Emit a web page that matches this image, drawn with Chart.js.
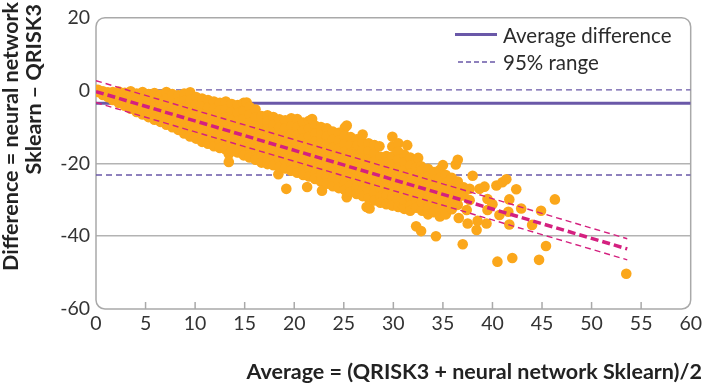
<!DOCTYPE html>
<html>
<head>
<meta charset="utf-8">
<script src="https://cdn.jsdelivr.net/npm/chart.js@4.4.0/dist/chart.umd.min.js"></script>
<style>
  body { margin: 0; background: #fff; }
  #wrap { width: 705px; height: 386px; position: relative; }
</style>
</head>
<body>
<div id="wrap"><canvas id="bland"></canvas></div>
<script>
// average risk (x) with the differences (y), grouped by column
var scatterCols = [
  [0.2, [0.2, -0.4]], [0.7, [-0.2, -1.2]], [1.2, [-0.5, -1.8]], [1.7, [-0.4, -1.5, -2.6]],
  [2.3, [-0.3, -2.0, -3.4]], [2.9, [-0.6, -2.4, -4.2]], [3.5, [-0.2, -1.9, -3.6, -5.0]],
  [4.1, [-0.8, -2.6, -4.4, -5.9]], [4.7, [-0.4, -2.2, -4.0, -5.7, -6.6]],
  [5.3, [-1.0, -2.8, -4.6, -6.4, -7.3]], [5.9, [-0.7, -2.5, -4.4, -6.2, -8.0]],
  [6.5, [-1.2, -3.0, -4.9, -6.8, -8.6]], [7.1, [-0.4, -2.3, -4.2, -6.1, -8.0, -9.4]],
  [7.7, [-1.0, -2.9, -4.8, -6.7, -8.6, -10.1]], [8.3, [-1.3, -3.3, -5.2, -7.2, -9.1, -10.8]],
  [8.9, [-0.8, -2.8, -4.8, -6.8, -8.8, -10.7, -11.8]], [9.5, [-0.5, -2.6, -4.7, -6.8, -8.9, -11.0, -12.6]],
  [10.1, [-1.8, -3.9, -6.0, -8.1, -10.2, -12.3, -13.2]], [10.7, [-2.2, -4.3, -6.4, -8.5, -10.6, -12.6, -14.1]],
  [11.3, [-2.6, -4.7, -6.8, -8.9, -11.0, -13.1, -14.6]], [11.9, [-3.0, -5.1, -7.2, -9.3, -11.4, -13.5, -15.3]],
  [12.5, [-3.4, -5.5, -7.6, -9.7, -11.8, -13.9, -15.8]], [13.1, [-3.0, -5.2, -7.4, -9.6, -11.8, -14.0, -16.2]],
  [13.4, [-17.4, -19.6]], [13.7, [-3.7, -5.9, -8.1, -10.3, -12.5, -14.7, -16.6]],
  [14.3, [-4.0, -6.2, -8.4, -10.6, -12.8, -15.0, -17.0]], [14.9, [-3.4, -5.6, -7.8, -10.0, -12.2, -14.4, -16.6, -17.8]],
  [15.2, [-3.3]], [15.5, [-4.5, -6.7, -8.9, -11.1, -13.3, -15.5, -17.7, -18.4]],
  [16.1, [-5.2, -7.4, -9.6, -11.8, -14.0, -16.2, -18.4, -19.0]], [16.7, [-7.0, -9.2, -11.4, -13.6, -15.8, -18.0, -19.8]],
  [17.3, [-6.8, -8.5, -10.7, -12.9, -15.1, -17.3, -19.5, -20.2]], [17.9, [-7.3, -9.5, -11.7, -13.9, -16.1, -18.3, -20.5]],
  [18.4, [-23.0]], [18.5, [-7.9, -10.1, -12.3, -14.5, -16.7, -18.9, -21.0]],
  [19.1, [-8.2, -10.4, -12.6, -14.8, -17.0, -19.2, -21.4]], [19.2, [-27.0]],
  [19.7, [-7.6, -9.8, -12.0, -14.2, -16.4, -18.6, -20.8, -22.0]], [20.3, [-7.8, -10.0, -12.2, -14.4, -16.6, -18.8, -21.0, -22.6]],
  [20.9, [-8.8, -11.0, -13.2, -15.4, -17.6, -19.8, -22.0, -23.2]], [21.3, [-26.5]],
  [21.5, [-8.3, -10.5, -12.7, -14.9, -17.1, -19.3, -21.5, -23.6]], [21.8, [-7.8]],
  [22.1, [-9.6, -11.8, -14.0, -16.2, -18.4, -20.6, -22.8, -24.3]],
  [22.7, [-10.0, -12.2, -14.4, -16.6, -18.8, -21.0, -23.2, -25.0]], [22.8, [-27.5]],
  [23.3, [-10.4, -12.6, -14.8, -17.0, -19.2, -21.4, -23.6, -25.6]], [23.9, [-11.3, -13.5, -15.7, -17.9, -20.1, -22.3, -24.5, -26.3]],
  [24.5, [-11.6, -13.8, -16.0, -18.2, -20.4, -22.6, -24.8, -26.8]], [25.1, [-10.2, -12.4, -14.6, -16.8, -19.0, -21.2, -23.4, -25.6, -27.3]],
  [25.3, [-9.6, -29.3]], [25.7, [-12.8, -15.0, -17.2, -19.4, -21.6, -23.8, -26.0, -27.8]],
  [26.3, [-13.4, -15.6, -17.8, -20.0, -22.2, -24.4, -26.6, -28.4]], [26.4, [-15.0]],
  [26.9, [-12.1, -14.3, -16.5, -18.7, -20.9, -23.1, -25.3, -27.5, -29.0]], [27.3, [-32.0]],
  [27.5, [-14.5, -16.7, -18.9, -21.1, -23.3, -25.5, -27.7, -29.6]], [27.6, [-32.4]],
  [28.1, [-15.0, -17.2, -19.4, -21.6, -23.8, -26.0, -28.2, -30.2]], [28.6, [-15.3]],
  [28.7, [-18.2, -20.4, -22.6, -24.8, -27.0, -29.2, -30.8]], [29.3, [-18.0, -19.9, -22.1, -24.3, -26.5, -28.7, -31.2]],
  [29.9, [-12.7, -15.4, -18.2, -20.4, -22.6, -24.8, -27.0, -29.2, -31.6]], [30.5, [-14.5, -16.8, -19.0, -21.2, -23.4, -25.6, -27.8, -30.0, -32.0]],
  [31.0, [-32.0]], [31.1, [-17.6, -19.8, -22.0, -24.2, -26.4, -28.6, -30.8, -32.5]], [31.4, [-15.0]],
  [31.7, [-18.4, -20.6, -22.8, -25.0, -27.2, -29.4, -31.6, -33.0]], [32.3, [-19.0, -21.2, -23.4, -25.6, -27.8, -30.0, -32.2, -37.3]],
  [32.5, [-18.5]], [32.8, [-20.8, -38.6]], [32.9, [-22.0, -24.2, -26.4, -28.6, -30.8, -33.0]],
  [33.5, [-21.5, -23.7, -25.9, -28.1, -30.3, -32.5, -34.0]], [34.1, [-22.4, -24.6, -26.8, -29.0, -31.2, -33.4]],
  [34.3, [-40.0]], [34.7, [-21.8, -24.0, -26.2, -28.4, -30.6, -32.8, -34.6]], [35.0, [-20.5]],
  [35.3, [-23.2, -25.4, -27.6, -29.8, -32.0, -34.0]], [35.9, [-24.0, -26.2, -28.4, -30.6, -32.6]],
  [36.3, [-20.3]], [36.5, [-19.0, -25.0, -27.2, -29.4, -31.4]], [36.6, [-35.0]], [37.0, [-42.2]],
  [37.1, [-26.6, -28.8]], [37.4, [-32.8]], [37.5, [-36.5]], [37.7, [-27.0, -30.1]], [38.0, [-23.4]],
  [38.4, [-38.3]], [38.5, [-35.8]], [38.7, [-27.0]], [39.2, [-26.4]], [39.4, [-36.5]],
  [39.5, [-29.8, -32.8]], [40.0, [-31.2]], [40.4, [-26.1]], [40.5, [-47.0]], [40.7, [-34.2]],
  [41.0, [-25.2]], [41.4, [-24.4]], [41.6, [-33.3]], [41.7, [-29.9, -36.8]], [42.0, [-46.0]],
  [42.4, [-27.1]], [42.9, [-32.4]], [44.0, [-36.9]], [44.7, [-46.5]], [44.9, [-33.0]],
  [45.4, [-42.7]], [46.3, [-29.9]], [53.5, [-50.3]]
];

var meanDiff = [-3.5, -3.5];
var upperLimit = [0.2, 0.2];
var lowerLimit = [-23.2, -23.2];
var limitX = [0, 60];

// trend line and its band, read at both ends
var fitX = [0, 53.6];
var fitMid = [-0.3, -43.5];
var fitHigh = [2.7, -40.7];
var fitLow = [-3.3, -46.5];

var xTicks = [0, 5, 10, 15, 20, 25, 30, 35, 40, 45, 50, 55, 60];
var yTicks = [20, 0, -20, -40, -60];

var purple = '#6a58a8';
var magenta = '#d4207f';
var orange = '#fba71b';

function pairs(xs, ys) {
  return xs.map(function (x, i) { return { x: x, y: ys[i] }; });
}

var scatterData = [];
scatterCols.forEach(function (col) {
  col[1].forEach(function (d) { scatterData.push({ x: col[0], y: d }); });
});

// border, inner ticks, legend and axis titles
var decorations = {
  id: 'decorations',
  beforeDatasetsDraw: function (chart) {
    var ctx = chart.ctx, a = chart.chartArea;
    ctx.save();
    ctx.strokeStyle = '#a9a9a9';
    ctx.lineWidth = 1.5;
    ctx.beginPath();
    ctx.roundRect(a.left, a.top, a.right - a.left, a.bottom - a.top, 9);
    ctx.stroke();
    var xs = chart.scales.x;
    xTicks.forEach(function (t) {
      if (t === 0 || t === 60) return;
      var px = xs.getPixelForValue(t);
      ctx.beginPath();
      ctx.moveTo(px, a.bottom);
      ctx.lineTo(px, a.bottom - 7);
      ctx.stroke();
    });
    ctx.restore();
  },
  afterDraw: function (chart) {
    var ctx = chart.ctx;
    ctx.save();
    // legend
    ctx.strokeStyle = purple;
    ctx.lineWidth = 3;
    ctx.beginPath();
    ctx.moveTo(455, 34.5);
    ctx.lineTo(497, 34.5);
    ctx.stroke();
    ctx.lineWidth = 1.3;
    ctx.setLineDash([5, 3]);
    ctx.beginPath();
    ctx.moveTo(458, 62);
    ctx.lineTo(497, 62);
    ctx.stroke();
    ctx.setLineDash([]);
    ctx.fillStyle = '#2b2b2b';
    ctx.font = '20.5px Lato';
    ctx.textAlign = 'left';
    ctx.textBaseline = 'alphabetic';
    ctx.fillText('Average difference', 503, 43);
    ctx.fillText('95% range', 503, 70);

    // axis titles
    ctx.font = 'bold 21.5px Lato';
    ctx.fillStyle = '#222';
    ctx.textAlign = 'right';
    ctx.fillText('Average = (QRISK3 + neural network Sklearn)/2', 702, 379);

    ctx.save();
    ctx.translate(18, 2);
    ctx.rotate(-Math.PI / 2);
    ctx.fillText('Difference = neural network', 0, 0);
    ctx.restore();
    ctx.save();
    ctx.translate(41, 4);
    ctx.rotate(-Math.PI / 2);
    ctx.fillText('Sklearn \u2013 QRISK3', 0, 0);
    ctx.restore();
    ctx.restore();
  }
};

var chartBland = new Chart(document.getElementById('bland'), {
  type: 'scatter',
  data: {
    datasets: [
      {
        label: 'Points',
        data: scatterData,
        backgroundColor: orange,
        borderWidth: 0,
        pointRadius: 5.3,
        pointHoverRadius: 5.3,
        order: 2
      },
      {
        label: 'Average difference',
        data: pairs(limitX, meanDiff),
        showLine: true,
        borderColor: purple,
        borderWidth: 3,
        pointRadius: 0,
        order: 3
      },
      {
        label: '95% range upper',
        data: pairs(limitX, upperLimit),
        showLine: true,
        borderColor: purple,
        borderWidth: 1.3,
        borderDash: [6, 4],
        pointRadius: 0,
        order: 3
      },
      {
        label: '95% range lower',
        data: pairs(limitX, lowerLimit),
        showLine: true,
        borderColor: purple,
        borderWidth: 1.3,
        borderDash: [6, 4],
        pointRadius: 0,
        order: 3
      },
      {
        label: 'Trend',
        data: pairs(fitX, fitMid),
        showLine: true,
        borderColor: magenta,
        borderWidth: 3.5,
        borderDash: [8, 4],
        pointRadius: 0,
        order: 1
      },
      {
        label: 'Trend upper',
        data: pairs(fitX, fitHigh),
        showLine: true,
        borderColor: magenta,
        borderWidth: 1.4,
        borderDash: [6, 4],
        pointRadius: 0,
        order: 1
      },
      {
        label: 'Trend lower',
        data: pairs(fitX, fitLow),
        showLine: true,
        borderColor: magenta,
        borderWidth: 1.4,
        borderDash: [6, 4],
        pointRadius: 0,
        order: 1
      }
    ]
  },
  options: {
    responsive: true,
    maintainAspectRatio: false,
    animation: false,
    layout: { padding: { top: 11, right: 13, left: 0, bottom: 0 } },
    plugins: {
      legend: { display: false },
      tooltip: { enabled: false }
    },
    scales: {
      x: {
        type: 'linear',
        min: 0,
        max: 60,
        afterFit: function (scale) { scale.height = 77; },
        afterBuildTicks: function (scale) {
          scale.ticks = xTicks.map(function (v) { return { value: v }; });
        },
        ticks: {
          font: { family: 'Lato', size: 19.5 },
          color: '#333',
          padding: 3,
          maxRotation: 0
        },
        grid: { display: false, drawTicks: false },
        border: { display: false }
      },
      y: {
        min: -60,
        max: 20,
        afterFit: function (scale) { scale.width = 96; },
        afterBuildTicks: function (scale) {
          scale.ticks = yTicks.map(function (v) { return { value: v }; });
        },
        ticks: {
          font: { family: 'Lato', size: 19.5 },
          color: '#333',
          padding: 6
        },
        grid: {
          drawTicks: false,
          lineWidth: 1.5,
          color: function (c) {
            return (c.tick && (c.tick.value === -20 || c.tick.value === -40)) ? '#b3b3b3' : 'rgba(0,0,0,0)';
          }
        },
        border: { display: false }
      }
    }
  },
  plugins: [decorations]
});
</script>
</body>
</html>
